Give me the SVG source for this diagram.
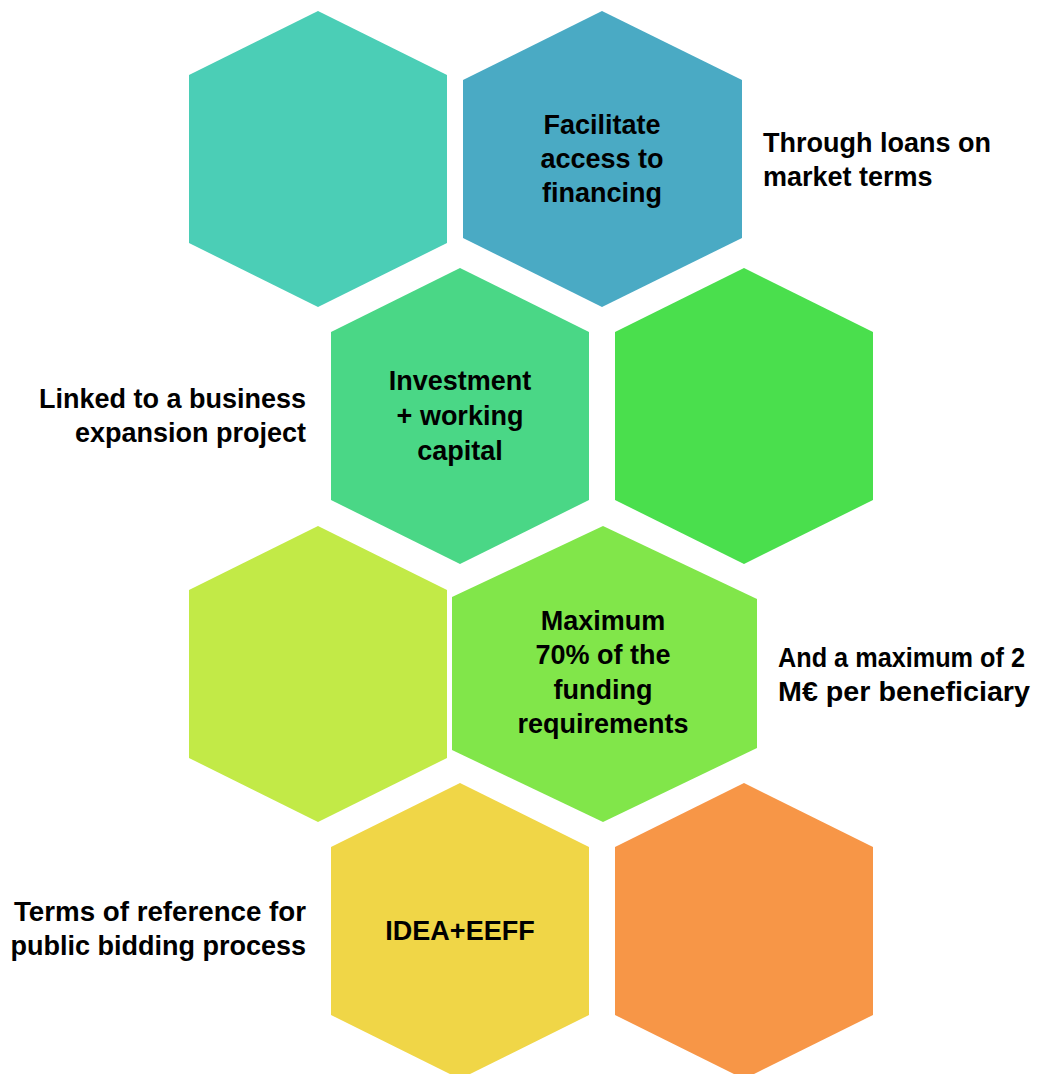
<svg xmlns="http://www.w3.org/2000/svg" width="1059" height="1074" viewBox="0 0 1059 1074">
<style>
text{font-family:"Liberation Sans",Arial,sans-serif;font-weight:bold;font-size:27px;fill:#000}
.c{text-anchor:middle}
.r{text-anchor:end}
</style>
<rect width="1059" height="1074" fill="#fff"/>
<g id="hex-teal"><polygon points="318,11 447,75 447,243 318,307 189,243 189,75" fill="#4BCEB6"/></g>
<g id="hex-facilitate"><polygon points="602,11 742,80 742,238 602,307 463,238 463,80" fill="#4AAAC4"/>
<text class="c" x="602" y="134">Facilitate</text><text class="c" x="602" y="168">access to</text><text class="c" x="602" y="202">financing</text></g>
<g id="hex-investment"><polygon points="460,268 589,332 589,500 460,564 331,500 331,332" fill="#4AD786"/>
<text class="c" x="460" y="390">Investment</text><text class="c" x="460" y="425">+ working</text><text class="c" x="460" y="460">capital</text></g>
<g id="hex-green"><polygon points="744,268 873,332 873,500 744,564 615,500 615,332" fill="#4ADF4D"/></g>
<g id="hex-lime"><polygon points="318,526 447,590 447,758 318,822 189,758 189,590" fill="#C2EA47"/></g>
<g id="hex-maximum"><polygon points="603,526 757,599 757,748 603,822 452,750 452,597" fill="#81E64A"/>
<text class="c" x="603" y="630">Maximum</text><text class="c" x="603" y="664">70% of the</text><text class="c" x="603" y="699">funding</text><text class="c" x="603" y="733">requirements</text></g>
<g id="hex-idea"><polygon points="460,783 589,847 589,1015 460,1079 331,1015 331,847" fill="#F0D647"/>
<text class="c" x="460" y="940">IDEA+EEFF</text></g>
<g id="hex-orange"><polygon points="744,783 873,847 873,1015 744,1079 615,1015 615,847" fill="#F79647"/></g>
<g id="label-loans"><text x="763" y="152">Through loans on</text><text x="763" y="186">market terms</text></g>
<g id="label-linked"><text class="r" x="306" y="408">Linked to a business</text><text class="r" x="306" y="442">expansion project</text></g>
<g id="label-max2"><text x="778" y="667" textLength="247" lengthAdjust="spacingAndGlyphs">And a maximum of 2</text><text x="778" y="701" textLength="252" lengthAdjust="spacingAndGlyphs">M€ per beneficiary</text></g>
<g id="label-terms"><text class="r" x="306" y="921" textLength="292" lengthAdjust="spacingAndGlyphs">Terms of reference for</text><text class="r" x="306" y="955">public bidding process</text></g>
</svg>
